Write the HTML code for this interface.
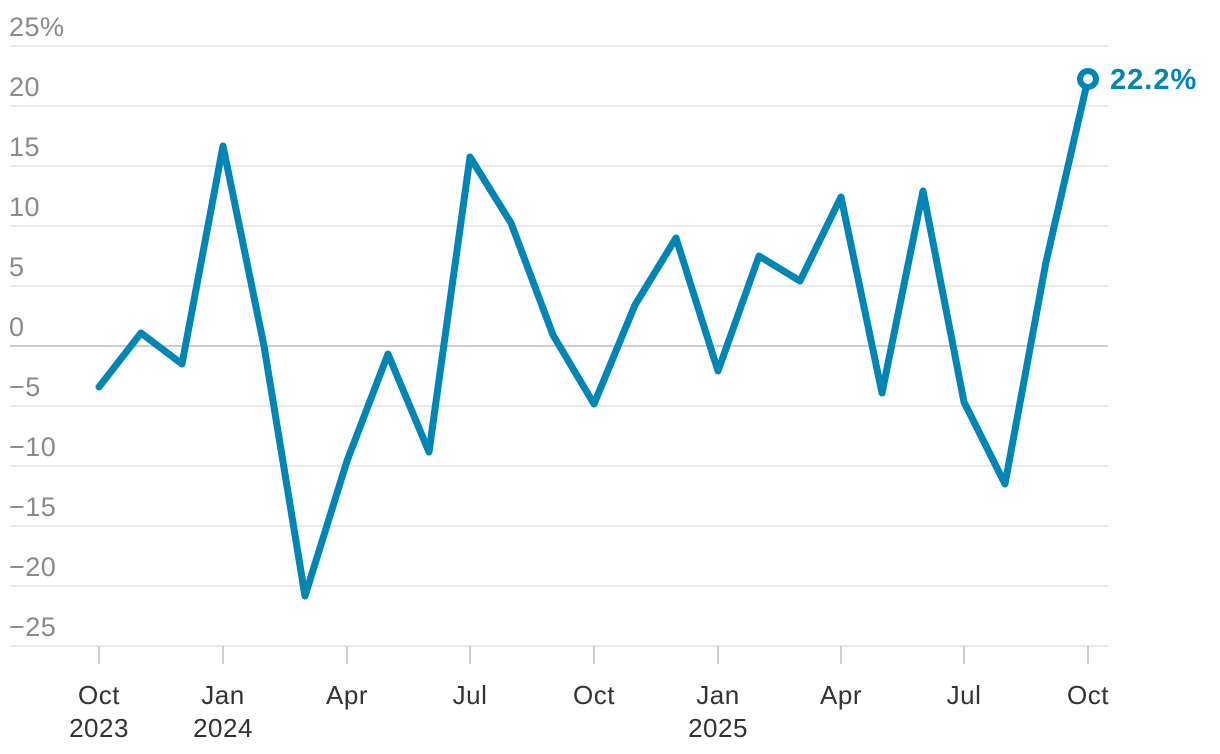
<!DOCTYPE html>
<html><head><meta charset="utf-8"><style>
html,body{margin:0;padding:0;background:#fff;}
svg{display:block;font-family:"Liberation Sans",sans-serif;}
</style></head><body>
<svg width="1220" height="754" viewBox="0 0 1220 754" xmlns="http://www.w3.org/2000/svg">
<g stroke="#e2e2e2" stroke-width="1.5">
<line x1="10" x2="1108" y1="46" y2="46"/>
<line x1="10" x2="1108" y1="106" y2="106"/>
<line x1="10" x2="1108" y1="166" y2="166"/>
<line x1="10" x2="1108" y1="226" y2="226"/>
<line x1="10" x2="1108" y1="286" y2="286"/>
<line x1="10" x2="1108" y1="406" y2="406"/>
<line x1="10" x2="1108" y1="466" y2="466"/>
<line x1="10" x2="1108" y1="526" y2="526"/>
<line x1="10" x2="1108" y1="586" y2="586"/>
<line x1="10" x2="1108" y1="646" y2="646"/>
</g>
<line x1="10" x2="1108" y1="346" y2="346" stroke="#bdbdbd" stroke-width="1.5"/>
<g fill="#8a8a8a" font-size="27" letter-spacing="0.5">
<text x="9" y="36">25%</text>
<text x="9" y="96">20</text>
<text x="9" y="156">15</text>
<text x="9" y="216">10</text>
<text x="9" y="276">5</text>
<text x="9" y="336">0</text>
<text x="9" y="396">−5</text>
<text x="9" y="456">−10</text>
<text x="9" y="516">−15</text>
<text x="9" y="576">−20</text>
<text x="9" y="636">−25</text>
</g>
<g stroke="#bdbdbd" stroke-width="1.5">
<line x1="99" x2="99" y1="646" y2="664"/>
<line x1="223" x2="223" y1="646" y2="664"/>
<line x1="347" x2="347" y1="646" y2="664"/>
<line x1="470" x2="470" y1="646" y2="664"/>
<line x1="594" x2="594" y1="646" y2="664"/>
<line x1="718" x2="718" y1="646" y2="664"/>
<line x1="841" x2="841" y1="646" y2="664"/>
<line x1="964" x2="964" y1="646" y2="664"/>
<line x1="1088" x2="1088" y1="646" y2="664"/>
</g>
<g fill="#333" font-size="26" text-anchor="middle" letter-spacing="0.5">
<text x="99" y="704">Oct</text><text x="99" y="737">2023</text>
<text x="223" y="704">Jan</text><text x="223" y="737">2024</text>
<text x="347" y="704">Apr</text>
<text x="470" y="704">Jul</text>
<text x="594" y="704">Oct</text>
<text x="718" y="704">Jan</text><text x="718" y="737">2025</text>
<text x="841" y="704">Apr</text>
<text x="964" y="704">Jul</text>
<text x="1088" y="704">Oct</text>
</g>
<polyline fill="none" stroke="#0085b5" stroke-width="7" stroke-linejoin="round" stroke-linecap="round"
points="99,387 141,333 182,364 223,146 264,346 305,596 347,461 388,354 429,452 470,157 511,223 553,335 594,404 635,305 676,238 718,371 759,256 800,281 841,197 882,393 923,191 964,402 1005,484 1046,262 1088,79"/>
<circle cx="1088" cy="79" r="8" fill="#fff" stroke="#0085b5" stroke-width="6"/>
<text x="1110" y="89" fill="#0085b5" font-size="29" font-weight="bold" letter-spacing="1">22.2%</text>
</svg>
</body></html>
